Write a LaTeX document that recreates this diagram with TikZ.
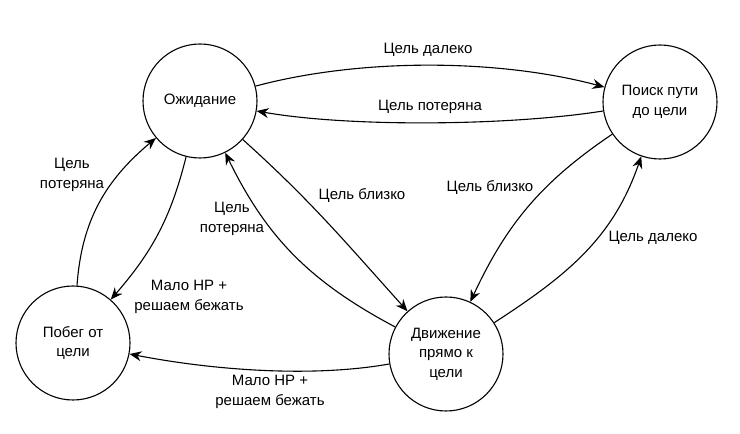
\documentclass[tikz,border=0pt]{standalone}
\usepackage{fontspec}
\setmainfont{Liberation Sans}
\usetikzlibrary{arrows.meta}

\begin{document}
\begin{tikzpicture}[x=1pt, y=1pt,
    state/.style={circle, draw, line width=1.1pt, minimum size=114pt, inner sep=0pt, align=center, font=\fontsize{15}{19.5}\selectfont},
    trans/.style={line width=1.1pt, -{Stealth[length=12pt, width=10pt, inset=4pt]}},
    lbl/.style={align=center, font=\fontsize{15}{19.5}\selectfont}]
    \useasboundingbox (0,0) rectangle (740,434);

    % состояния
    \node[state] (wait) at (200, 333) {Ожидание};
    \node[state] (search) at (660, 332) {Поиск пути\\до цели};
    \node[state] (flee) at (73, 91) {Побег от\\цели};
    \node[state] (move) at (446, 80) {Движение\\прямо к\\цели};

    % переходы
    \draw[trans] (wait) to[out=15, in=165, looseness=0.8] (search);
    \draw[trans] (search) to[out=189, in=-10, looseness=0.7] (wait);
    \draw[trans] (wait) to[out=-42, in=132] (move);
    \draw[trans] (move) to[out=152, in=-64] (wait);
    \draw[trans] (search) to[out=214, in=65] (move);
    \draw[trans] (move) to[out=33, in=-109] (search);
    \draw[trans] (move) to[out=190, in=-11, looseness=0.8] (flee);
    \draw[trans] (wait) to[out=-104, in=49] (flee);
    \draw[trans] (flee) to[out=86, in=220] (wait);

    % подписи
    \node[lbl] (far1) at (428, 384) {Цель далеко};
    \node[lbl] (lost1) at (430, 327) {Цель потеряна};
    \node[lbl] (near1) at (362, 239) {Цель близко};
    \node[lbl] (lost2) at (232, 215) {Цель\\потеряна};
    \node[lbl] (lost3) at (72, 259) {Цель\\потеряна};
    \node[lbl] (lowhp1) at (189, 137) {Мало HP +\\решаем бежать};
    \node[lbl] (lowhp2) at (270, 42) {Мало HP +\\решаем бежать};
    \node[lbl] (near2) at (490, 247) {Цель близко};
    \node[lbl] (far2) at (653, 196) {Цель далеко};
\end{tikzpicture}
\end{document}
